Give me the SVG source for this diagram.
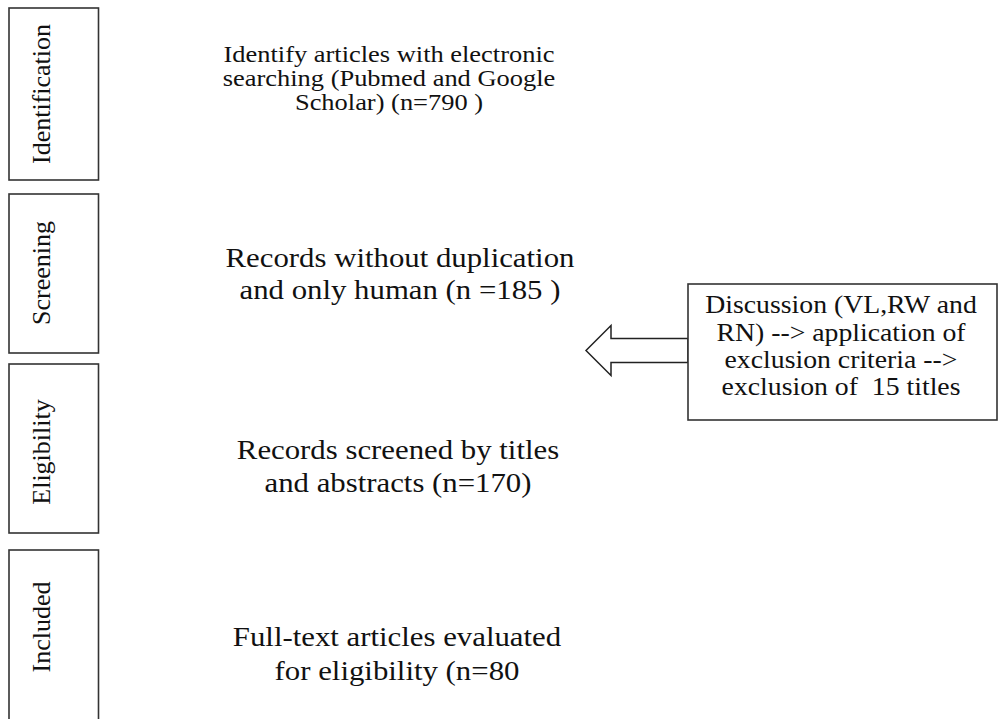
<svg xmlns="http://www.w3.org/2000/svg" width="999" height="719" viewBox="0 0 999 719">
<style>
.bg{fill:#ffffff}
.stage{fill:#ffffff;stroke:#333333;stroke-width:1.6}
.lbl{font-family:"Liberation Serif","Times New Roman",serif;font-size:26px;fill:#111111;text-anchor:middle}
.t23{font-family:"Liberation Serif","Times New Roman",serif;font-size:23px;fill:#111111;text-anchor:middle}
.t28{font-family:"Liberation Serif","Times New Roman",serif;font-size:28px;fill:#111111;text-anchor:middle}
.t25{font-family:"Liberation Serif","Times New Roman",serif;font-size:25px;fill:#111111;text-anchor:middle}
.arrow{fill:#ffffff;stroke:#222222;stroke-width:1.5;stroke-linejoin:miter}
.note{fill:#ffffff;stroke:#333333;stroke-width:1.6}
</style>
<rect class="bg" x="0" y="0" width="999" height="719"/>

<g id="stage-identification">
<rect class="stage" x="9" y="8" width="89.5" height="172"/>
<text class="lbl" transform="translate(50,94) rotate(-90)">Identification</text>
</g>
<g id="stage-screening">
<rect class="stage" x="9" y="194" width="89.5" height="159"/>
<text class="lbl" transform="translate(50,273) rotate(-90)">Screening</text>
</g>
<g id="stage-eligibility">
<rect class="stage" x="9" y="364" width="89.5" height="169"/>
<text class="lbl" transform="translate(50,452) rotate(-90)">Eligibility</text>
</g>
<g id="stage-included">
<rect class="stage" x="9" y="550" width="89.5" height="180"/>
<text class="lbl" transform="translate(50,627) rotate(-90)">Included</text>
</g>

<g id="step-identify" transform="translate(389,0) scale(1.15,1)">
<text class="t23" x="0" y="62">Identify articles with electronic</text>
<text class="t23" x="0" y="86">searching (Pubmed and Google</text>
<text class="t23" x="0" y="110">Scholar) (n=790 )</text>
</g>
<g id="step-records" transform="translate(400,0) scale(1.1,1)">
<text class="t28" x="0" y="267">Records without duplication</text>
<text class="t28" x="0" y="299">and only human (n =185 )</text>
</g>
<g id="step-screened" transform="translate(398,0) scale(1.1,1)">
<text class="t28" x="0" y="459">Records screened by titles</text>
<text class="t28" x="0" y="492">and abstracts (n=170)</text>
</g>
<g id="step-fulltext" transform="translate(397,0) scale(1.1,1)">
<text class="t28" x="0" y="646">Full-text articles evaluated</text>
<text class="t28" x="0" y="680">for eligibility (n=80</text>
</g>

<g id="connectors">
<polygon class="arrow" points="688,338.5 611,338.5 611,325.5 586,350.5 611,375.5 611,362.5 688,362.5"/>
</g>

<g id="exclusion-note">
<rect class="note" x="688" y="284" width="309" height="136"/>
<g transform="translate(841,0) scale(1.11,1)">
<text class="t25" x="0" y="313">Discussion (VL,RW and</text>
<text class="t25" x="0" y="341">RN) --&gt; application of</text>
<text class="t25" x="0" y="368">exclusion criteria --&gt;</text>
<text class="t25" x="0" y="395" xml:space="preserve">exclusion of  15 titles</text>
</g>
</g>
</svg>
